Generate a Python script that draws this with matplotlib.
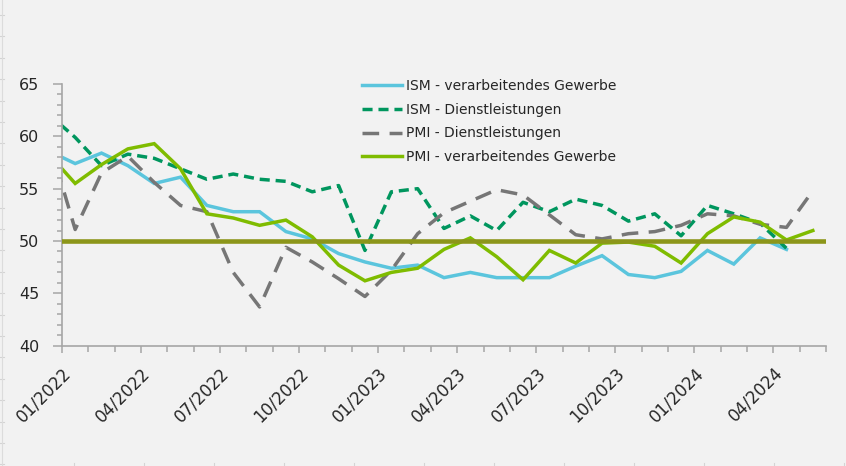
import matplotlib
matplotlib.use("Agg")
import matplotlib.pyplot as plt
from matplotlib.lines import Line2D
from matplotlib.ticker import MultipleLocator, FixedLocator
import numpy as np

BG = "#f2f2f2"
AXIS_GRAY = "#a6a6a6"
TEXT = "#262626"
C_ISM_MFG = "#5bc5dd"
C_ISM_SVC = "#00965e"
C_PMI_SVC = "#767676"
C_PMI_MFG = "#7fbc00"
C_FIFTY = "#8c961a"

plt.rcParams.update({
    "font.family": "DejaVu Sans",
})

# monthly values, first entry = 12/2021 (sits half a month left of the axis start)
ism_mfg = [58.6, 57.4, 58.4, 57.2, 55.5, 56.1, 53.4, 52.8, 52.8, 50.9, 50.2, 48.8, 48.0,
           47.4, 47.7, 46.5, 47.0, 46.5, 46.5, 46.5, 47.6, 48.6, 46.8, 46.5, 47.1,
           49.1, 47.8, 50.3, 49.2]
ism_svc = [62.1, 59.9, 57.2, 58.3, 57.9, 56.9, 55.9, 56.4, 55.9, 55.7, 54.7, 55.3, 49.1,
           54.7, 55.0, 51.2, 52.4, 51.0, 53.7, 52.8, 54.0, 53.4, 51.9, 52.6, 50.5,
           53.4, 52.6, 51.7, 49.3]
pmi_svc = [59.6, 51.1, 56.5, 58.1, 55.6, 53.4, 52.8, 47.0, 43.7, 49.4, 48.0, 46.4, 44.7,
           47.2, 50.7, 52.7, 53.8, 54.9, 54.4, 52.5, 50.6, 50.2, 50.7, 50.9, 51.5,
           52.6, 52.4, 51.6, 51.3, 54.8]
pmi_mfg = [58.3, 55.5, 57.3, 58.8, 59.3, 56.9, 52.6, 52.2, 51.5, 52.0, 50.4, 47.7, 46.2,
           47.0, 47.4, 49.2, 50.3, 48.5, 46.3, 49.1, 47.9, 49.8, 49.9, 49.5, 47.9,
           50.7, 52.3, 51.8, 50.1, 51.0]
threshold = 50

n_months = 29  # axis runs 01/2022 .. 06/2024
tick_labels = ["01/2022", "04/2022", "07/2022", "10/2022", "01/2023",
               "04/2023", "07/2023", "10/2023", "01/2024", "04/2024"]

W, H = 846, 466
fig = plt.figure(figsize=(W / 100, H / 100), dpi=100)
fig.patch.set_facecolor(BG)

ax = fig.add_axes([62 / W, 1 - 345.7 / H, (826 - 62) / W, (345.7 - 84) / H])
ax.set_facecolor(BG)


def xpos(vals):
    # each value sits in the middle of its month, first one is 12/2021
    return np.arange(len(vals)) - 0.5


lw = 2.5
ax.plot(xpos(ism_mfg), ism_mfg, color=C_ISM_MFG, lw=lw, solid_joinstyle="miter",
        label="ISM - verarbeitendes Gewerbe")
ax.plot(xpos(ism_svc), ism_svc, color=C_ISM_SVC, lw=lw, dashes=(2.9, 1.7),
        label="ISM - Dienstleistungen")
ax.plot(xpos(pmi_svc), pmi_svc, color=C_PMI_SVC, lw=lw, dashes=(4.8, 3.0),
        label="PMI - Dienstleistungen")
ax.plot(xpos(pmi_mfg), pmi_mfg, color=C_PMI_MFG, lw=lw, solid_joinstyle="miter",
        label="PMI - verarbeitendes Gewerbe")
ax.axhline(threshold, color=C_FIFTY, lw=3.3, zorder=5)

ax.set_xlim(0, n_months)
ax.set_ylim(40, 65)

for s in ["top", "right"]:
    ax.spines[s].set_visible(False)
for s in ["left", "bottom"]:
    ax.spines[s].set_color(AXIS_GRAY)
    ax.spines[s].set_linewidth(1.2)

ax.yaxis.set_major_locator(MultipleLocator(5))
ax.yaxis.set_minor_locator(MultipleLocator(1))
ax.tick_params(axis="y", which="major", length=6.5, width=1.1, color=AXIS_GRAY,
               labelsize=11.5, labelcolor=TEXT, pad=10)
ax.tick_params(axis="y", which="minor", length=3.8, width=1.1, color=AXIS_GRAY)

ax.xaxis.set_major_locator(FixedLocator(np.arange(0, 28, 3)))
ax.xaxis.set_minor_locator(FixedLocator(np.arange(0, n_months + 1)))
ax.set_xticklabels(tick_labels, rotation=45, ha="right", va="top", rotation_mode="anchor")
ax.tick_params(axis="x", which="major", length=5, width=1.1, color=AXIS_GRAY,
               labelsize=12, labelcolor=TEXT, pad=8)
ax.tick_params(axis="x", which="minor", length=4.3, width=1.1, color=AXIS_GRAY)

fig.legend(loc="upper left", bbox_to_anchor=(362 / W, 1 - 79 / H),
           bbox_transform=fig.transFigure, frameon=False, fontsize=10,
           handlelength=2.9, handletextpad=0.25, labelspacing=0.7, borderpad=0,
           borderaxespad=0, labelcolor=TEXT)

# faint spreadsheet cell lines peeking through at the edges
for y in np.arange(15, H, 21.4):
    fig.add_artist(Line2D([0, 4 / W], [1 - y / H] * 2, transform=fig.transFigure,
                          color="#d4d4d4", lw=0.8))
fig.add_artist(Line2D([1.5 / W] * 2, [0, 1], transform=fig.transFigure,
                      color="#dcdcdc", lw=0.8))
for x in np.arange(74, W, 70):
    fig.add_artist(Line2D([x / W] * 2, [0, 3 / H], transform=fig.transFigure,
                          color="#d4d4d4", lw=0.8))

fig.savefig("out.png", dpi=100, facecolor=BG)
